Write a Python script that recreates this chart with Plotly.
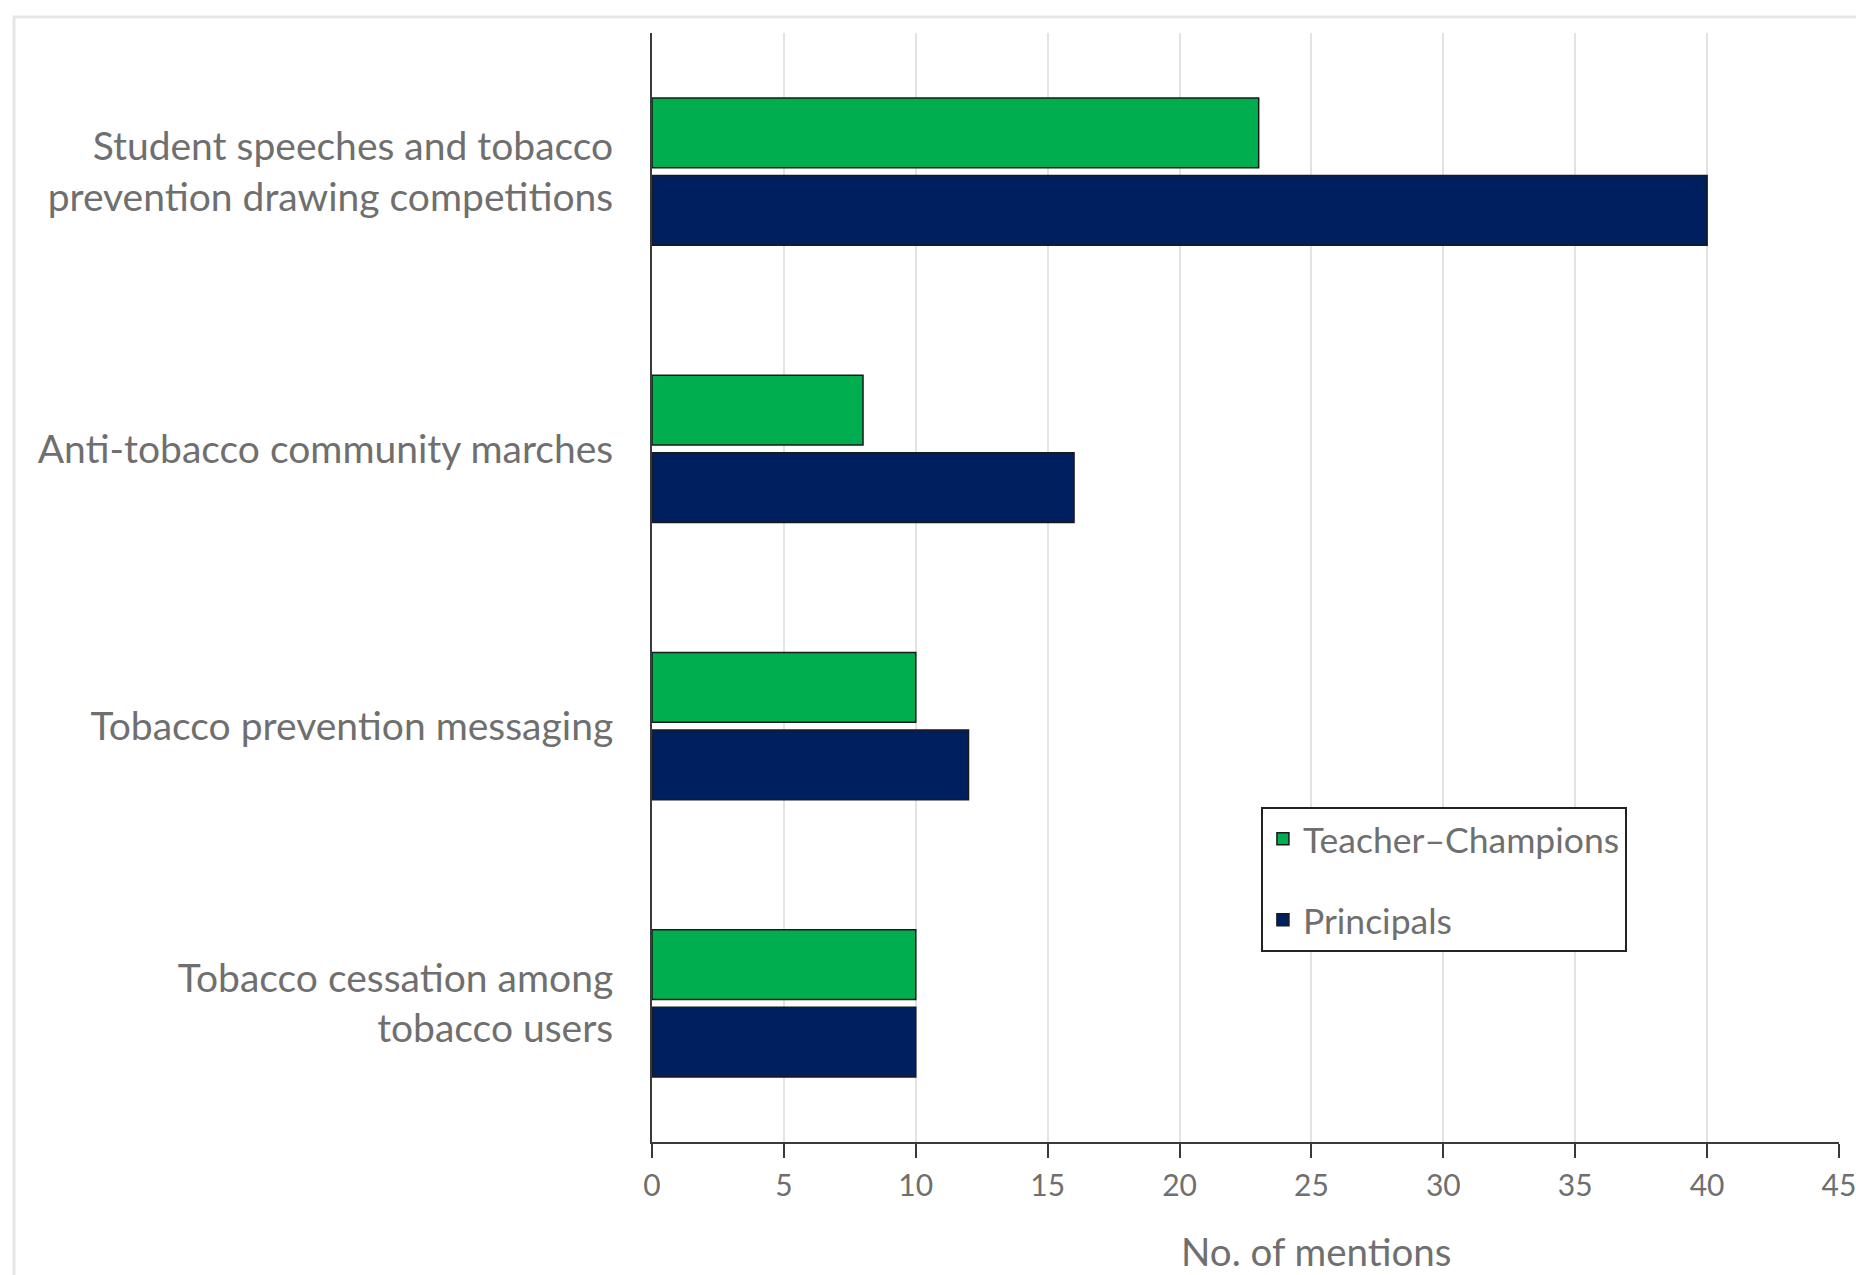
import plotly.graph_objects as go

categories = [
    "Student speeches and tobacco<br>prevention drawing competitions",
    "Anti-tobacco community marches",
    "Tobacco prevention messaging",
    "Tobacco cessation among<br>tobacco users",
]
teacher_champions = [23, 8, 10, 10]
principals = [40, 16, 12, 10]
x_ticks = [0, 5, 10, 15, 20, 25, 30, 35, 40, 45]

FONT = "Lato"
GRAY = "#6f6f6f"

fig = go.Figure()
fig.add_trace(go.Bar(
    y=categories, x=teacher_champions, orientation="h", name="Teacher\u2013Champions",
    marker=dict(color="#00ae4f", line=dict(color="#1a1a1a", width=1.5)),
    legendgroup="a",
))
fig.add_trace(go.Bar(
    y=categories, x=principals, orientation="h", name="Principals",
    marker=dict(color="#001f5e", line=dict(color="#1a1a1a", width=1.5)),
    legendgroup="b",
))

fig.update_layout(
    width=1856, height=1275,
    margin=dict(l=652, r=17, t=33, b=133, autoexpand=False),
    paper_bgcolor="white", plot_bgcolor="white",
    barmode="group", bargap=0.44, bargroupgap=0.1,
    font=dict(family=FONT, color=GRAY, size=36),
    xaxis=dict(
        range=[0, 45], tickvals=x_ticks, ticktext=[str(v) for v in x_ticks],
        showgrid=True, gridcolor="#e3e3e3", gridwidth=1.5,
        showline=True, linecolor="#3a3a3a", linewidth=2,
        ticks="outside", ticklen=14, tickcolor="#3a3a3a", tickwidth=2,
        tickfont=dict(size=30, color=GRAY), ticklabelstandoff=2,
        ticklabeloverflow="allow", automargin=False,
        zeroline=False,
    ),
    yaxis=dict(
        autorange="reversed", showgrid=False,
        showline=True, linecolor="#3a3a3a", linewidth=2,
        ticks="", ticklabelstandoff=29, automargin=False,
        tickfont=dict(size=39, color=GRAY),
    ),
    legend=dict(
        x=0.513, y=0.302, xanchor="left", yanchor="top",
        bordercolor="#222222", borderwidth=2, bgcolor="white",
        font=dict(size=35.5, color=GRAY), traceorder="grouped", tracegroupgap=32,
    ),
    annotations=[dict(
        text="No. of mentions", xref="paper", yref="paper",
        x=0.560, y=-0.098, xanchor="center", yanchor="middle",
        showarrow=False, font=dict(size=38.5, color=GRAY),
    )],
    shapes=[dict(
        type="rect", xref="paper", yref="paper",
        x0=-0.5375, x1=1.03, y0=-0.2, y1=1.0144,
        line=dict(color="#e6e6e6", width=3), layer="below",
    )],
)

fig.write_html("out.html")
